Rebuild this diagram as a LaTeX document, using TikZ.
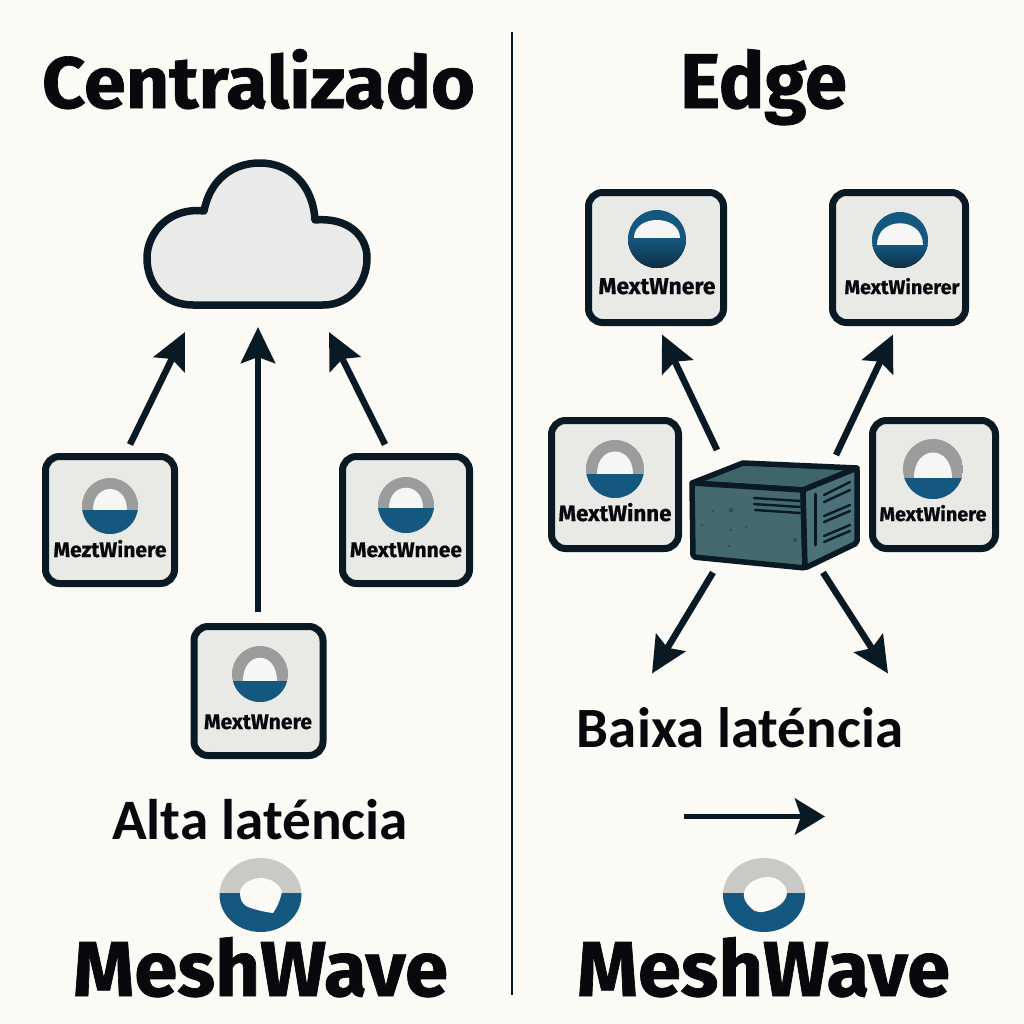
\documentclass[tikz,border=0pt]{standalone}
\usepackage{fontspec}
\usepackage{graphicx}
\usetikzlibrary{arrows.meta,calc}
\setmainfont{Carlito}
\newfontfamily\headfont[FakeBold=0.9]{Fira Sans Bold}
\newfontfamily\labelfont{Carlito Bold}
\newfontfamily\tinyfont[FakeBold=0.6]{Fira Sans Bold}
\newlength\pxu
\setlength\pxu{0.01cm}
\definecolor{paper}{HTML}{FBFAF5}
\definecolor{ink}{HTML}{0A1A24}
\definecolor{txt}{HTML}{07090C}
\definecolor{tile}{HTML}{E9E9E6}
\definecolor{cloudfill}{HTML}{EAEAE9}
\definecolor{wave}{HTML}{14587F}
\definecolor{wavedark}{HTML}{0F2E44}
\definecolor{ringgray}{HTML}{9B9D9D}
\definecolor{logogray}{HTML}{C9C9C6}
\definecolor{srvfront}{HTML}{44696E}
\definecolor{srvtop}{HTML}{3E666A}
\definecolor{srvside}{HTML}{4B7279}
\definecolor{speck}{HTML}{2F5257}
\tikzset{
  tilebox/.style={draw=ink,fill=tile,line width=7\pxu,rounded corners=14\pxu,inner sep=0pt,outer sep=0pt},
  flow/.style={draw=ink,line width=6.5\pxu,-{Stealth[length=0.36cm,width=0.34cm,inset=0.06cm]}},
  slot/.style={draw=ink,line width=2.4\pxu,line cap=round},
  anchorbox/.style={inner sep=0pt,outer sep=0pt},
  textline/.style={anchor=base,inner sep=0pt,outer sep=0pt,text=txt},
}
% name, cx, cy, w, h
\newcommand{\tilenode}[5]{\node[tilebox,minimum width=#4\pxu,minimum height=#5\pxu] (#1) at (#2,#3) {};}
% name, cx, baseline y, width, text
\newcommand{\tinylabel}[5]{\node[textline] (#1) at (#2,#3) {\resizebox{#4\pxu}{!}{\tinyfont #5}};}
% cx, cy, r, level, ring, water, hole half-width factor
\newcommand{\ringlogo}[7]{%
  \begin{scope}
    \clip (#1,#2) circle[radius=#3];
    \fill[#5] (#1-#3,#2-#3) rectangle (#1+#3,#2+#3);
    \fill[#6] (#1-#3,#4) rectangle (#1+#3,#2+#3);
  \end{scope}
  \fill[tile!40!white] (#1-#7*#3,#4) .. controls (#1-#7*#3,#2-0.85*#3) and (#1+#7*#3,#2-0.85*#3) .. (#1+#7*#3,#4) -- cycle;
}
% cx
\newcommand{\biglogo}[1]{%
  \begin{scope}
    \clip (#1,895) ellipse[x radius=41,y radius=37];
    \fill[logogray] (#1-42,857) rectangle (#1+42,893);
    \fill[wave] (#1-42,893) rectangle (#1+42,934);
  \end{scope}
}
\begin{document}
\begin{tikzpicture}[x=0.01cm,y=-0.01cm]
\useasboundingbox (0,0) rectangle (1024,1024);
\fill[paper] (0,0) rectangle (1024,1024);
\coordinate (divtop) at (512,32);
\coordinate (divbot) at (512,995);
\draw[ink,line width=2.5\pxu] (divtop) -- (divbot);

% headings
\node[textline] (titleL) at (258.5,108) {\resizebox{433\pxu}{59\pxu}{\headfont Centralizado}};
\node[textline] (titleR) at (763.5,108) {\resizebox{167\pxu}{59\pxu}{\headfont Edge}};

% cloud
\node[anchorbox,minimum width=220\pxu,minimum height=142\pxu] (cloud) at (257,234) {};
\draw[ink,fill=cloudfill,line width=7.5\pxu,line join=round]
  (193,305) -- (323,305) .. controls (350,305) and (367,283) .. (367,258)
  .. controls (367,235) and (347,217) .. (315,220)
  .. controls (313,185) and (290,163) .. (260,163)
  .. controls (232,163) and (210,180) .. (204,211)
  .. controls (170,207) and (147,232) .. (147,258)
  .. controls (147,285) and (165,305) .. (193,305) -- cycle;

% left tiles
\tilenode{devA}{110}{520}{129}{127}
\tilenode{devB}{406}{520}{127}{127}
\tilenode{devC}{258.5}{691}{129}{129}
\ringlogo{110}{506}{28}{510}{ringgray}{wave}{0.62}
\ringlogo{406}{505}{28}{508}{ringgray}{wave}{0.62}
\ringlogo{260}{674}{28}{681}{ringgray}{wave}{0.62}
\tinylabel{devAt}{110}{557}{113}{MeztWinere}
\tinylabel{devBt}{406}{557}{112}{MextWnnee}
\tinylabel{devCt}{258}{729}{108}{MextWnere}

% right tiles
\tilenode{nodeTL}{656}{257.5}{135}{130}
\tilenode{nodeTR}{899}{257.5}{133}{130}
\tilenode{nodeML}{615}{484.5}{127}{128}
\tilenode{nodeMR}{934}{484.5}{123}{128}
\ringlogo{657}{239}{29}{238}{wave}{{top color=wave,bottom color=wavedark}}{0.8}
\ringlogo{900}{240}{28}{245}{wave}{{top color=wave,bottom color=wavedark}}{0.82}
\ringlogo{615}{469}{29}{474}{ringgray}{wave}{0.63}
\ringlogo{933}{469}{30}{478}{ringgray}{wave}{0.63}
\tinylabel{nodeTLt}{657}{294}{117}{MextWnere}
\tinylabel{nodeTRt}{902}{294}{115}{MextWinerer}
\tinylabel{nodeMLt}{615}{521}{113}{MextWinne}
\tinylabel{nodeMRt}{933}{521}{107}{MextWinere}

% server
\node[anchorbox,minimum width=165\pxu,minimum height=105\pxu] (server) at (775,515) {};
\begin{scope}[draw=ink,line width=5.5\pxu,line join=round]
  \filldraw[fill=srvtop] (692,483) -- (743,463) -- (857,468) -- (803,490) -- cycle;
  \filldraw[fill=srvfront,rounded corners=2\pxu] (692,483) -- (803,490) -- (805,568) -- (693,557) -- cycle;
  \filldraw[fill=srvside,rounded corners=2\pxu] (803,490) -- (857,468) -- (857,543) -- (805,568) -- cycle;
\end{scope}
\fill[speck] (713,511) circle[radius=1.5] (731,510) circle[radius=2.5] (702,525) circle[radius=1.5]
  (746,527) circle[radius=1.5] (731,530) circle[radius=1.5] (795,540) circle[radius=2] (729,546) circle[radius=1.5];
\draw[slot] (754,498) -- (800,501);
\draw[slot] (754,504) -- (800,507);
\draw[slot] (755,510) -- (800,513);
\draw[slot,line width=3\pxu] (815,494) -- (815,545);
\draw[slot] (824,495) -- (850,482);
\draw[slot] (824,502) -- (850,490);
\draw[slot] (824,516) -- (850,505);
\draw[slot] (824,522) -- (850,511);
\draw[slot] (824,536) -- (850,525);
\draw[slot] (824,542) -- (850,531);

% left arrows
\draw[flow] ([shift={(20,-12)}]devA.north) -- ([shift={(-72,27)}]cloud.south);
\draw[flow] ([shift={(-0.5,-15)}]devC.north) -- ([shift={(1,22)}]cloud.south);
\draw[flow] ([shift={(-21,-12)}]devB.north) -- ([shift={(72,27)}]cloud.south);

% right arrows
\draw[flow] ([shift={(-58,-12.5)}]server.north) -- ([shift={(6,12)}]nodeTL.south);
\draw[flow] ([shift={(61,-7.5)}]server.north) -- ([shift={(-6,12)}]nodeTR.south);
\draw[flow] ([shift={(-62,5)}]server.south) -- ([shift={(-123,106)}]server.south);
\draw[flow] ([shift={(48,5)}]server.south) -- ([shift={(113,106)}]server.south);

% captions
\node[textline] (lblAlta) at (260,839) {\resizebox{296\pxu}{!}{\labelfont Alta laténcia}};
\node[textline] (lblBaixa) at (740,747) {\resizebox{326\pxu}{!}{\labelfont Baixa laténcia}};
\coordinate (legA) at (684,816.5);
\coordinate (legB) at (825,816.5);
\draw[flow,line width=5.5\pxu,-{Stealth[length=0.30cm,width=0.36cm,inset=0.06cm]}] (legA) -- (legB);

% brand
\biglogo{260.5}
\fill[paper] (240,893) .. controls (240,884) and (252,878) .. (261,878)
   .. controls (270,878) and (280,884) .. (282,892)
   .. controls (280,900) and (277,908) .. (273,913)
   .. controls (264,912) and (252,909) .. (246,906)
   .. controls (242,903) and (240,899) .. (240,893) -- cycle;
\biglogo{764}
\fill[paper] (744,893) .. controls (745,884) and (757,877) .. (768,877)
   .. controls (778,877) and (787,885) .. (787,893)
   .. controls (786,903) and (776,908) .. (770,910)
   .. controls (762,913) and (755,913) .. (751,908)
   .. controls (746,903) and (743,899) .. (744,893) -- cycle;
\node[textline] (brandL) at (260.5,996) {\resizebox{375\pxu}{59\pxu}{\headfont MeshWave}};
\node[textline] (brandR) at (763.5,996) {\resizebox{373\pxu}{59\pxu}{\headfont MeshWave}};
\end{tikzpicture}
\end{document}
